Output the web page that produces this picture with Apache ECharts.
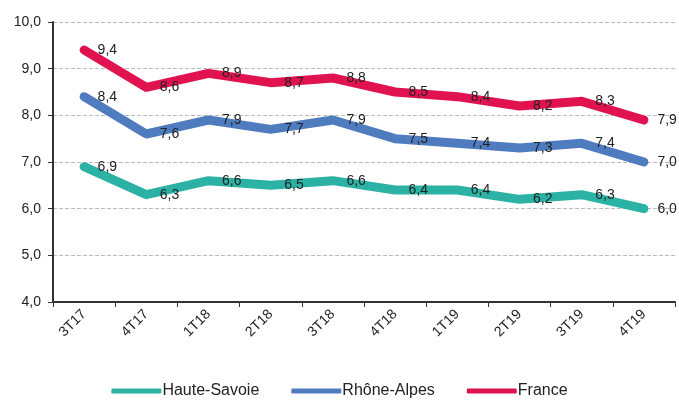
<!DOCTYPE html>
<html>
<head>
<meta charset="utf-8">
<script src="https://cdn.jsdelivr.net/npm/echarts@6/dist/echarts.min.js"></script>
<style>html,body{margin:0;padding:0;background:#fff;}#c{width:679px;height:402px;}</style>
</head>
<body>
<div id="c"></div>
<script>
var categories = ['3T17','4T17','1T18','2T18','3T18','4T18','1T19','2T19','3T19','4T19'];
var hauteSavoie = [6.9, 6.3, 6.6, 6.5, 6.6, 6.4, 6.4, 6.2, 6.3, 6.0];
var rhoneAlpes = [8.4, 7.6, 7.9, 7.7, 7.9, 7.5, 7.4, 7.3, 7.4, 7.0];
var france = [9.4, 8.6, 8.9, 8.7, 8.8, 8.5, 8.4, 8.2, 8.3, 7.9];
var seriesNames = ['Haute-Savoie', 'Rhône-Alpes', 'France'];
var colors = ['#2cb1a5', '#4f7cbf', '#e0124f'];

function fmt(v){ return Number(v).toFixed(1).replace('.', ','); }
function mk(name, data, color){
  return {
    name: name, type: 'line', data: data,
    symbol: 'circle', symbolSize: 1, showSymbol: true,
    itemStyle: {color: color},
    lineStyle: {color: color, width: 9, cap: 'round', join: 'round'},
    label: {show: true, position: 'right', distance: 13, color: '#222', fontSize: 14,
      fontFamily: 'Liberation Sans', formatter: function(p){ return fmt(p.value); }},
    emphasis: {disabled: true}, animation: false
  };
}
var chart = echarts.init(document.getElementById('c'));
chart.setOption({
  animation: false,
  grid: {left: 53, right: 4, top: 22, bottom: 100},
  legend: {
    top: 378, left: 'center', itemGap: 32, itemWidth: 50, itemHeight: 5,
    icon: 'roundRect',
    textStyle: {fontSize: 16, color: '#222', fontFamily: 'Liberation Sans', padding: [0,0,0,-4]},
    data: seriesNames
  },
  xAxis: {
    type: 'category', data: categories, boundaryGap: true,
    axisLine: {lineStyle: {color: '#333', width: 2}},
    axisTick: {show: true, length: 5, lineStyle: {color: '#333'}},
    axisLabel: {rotate: 45, margin: 10, fontSize: 14, color: '#222', fontFamily: 'Liberation Sans'}
  },
  yAxis: {
    type: 'value', min: 4, max: 10, interval: 1,
    axisLine: {show: true, lineStyle: {color: '#333', width: 2}},
    axisTick: {show: true, length: 5, lineStyle: {color: '#333'}},
    axisLabel: {fontSize: 14, color: '#222', fontFamily: 'Liberation Sans', margin: 12, formatter: fmt},
    splitLine: {lineStyle: {color: '#bbb', type: 'dashed'}}
  },
  series: [mk(seriesNames[0], hauteSavoie, colors[0]), mk(seriesNames[1], rhoneAlpes, colors[1]), mk(seriesNames[2], france, colors[2])]
});
</script>
</body>
</html>
